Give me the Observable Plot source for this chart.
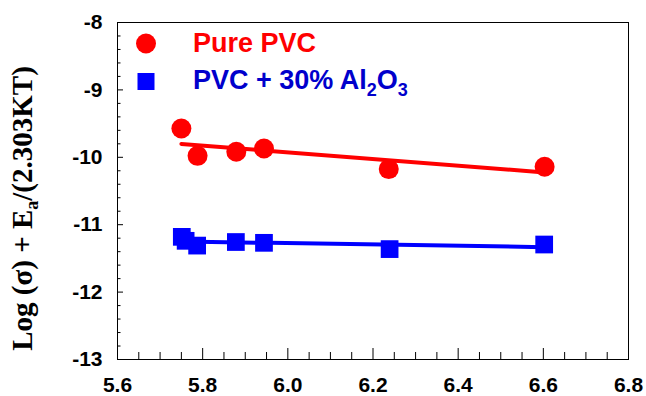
<!DOCTYPE html>
<html><head><meta charset="utf-8">
<script src="https://cdn.jsdelivr.net/npm/d3@7"></script>
<script src="https://cdn.jsdelivr.net/npm/@observablehq/plot@0.6"></script>
<style>body{margin:0;background:#fff} #chart{width:646px;height:396px}</style>
</head><body><div id="chart"></div>
<script>
// Data
const pureX = [5.750, 5.788, 5.879, 5.944, 6.237, 6.603];
const pureY = [-9.573, -9.978, -9.918, -9.870, -10.175, -10.141];
const alX = [5.751, 5.760, 5.787, 5.878, 5.944, 6.239, 6.602];
const alY = [-11.180, -11.239, -11.310, -11.257, -11.269, -11.362, -11.294];
const xTicks = [5.6, 5.8, 6.0, 6.2, 6.4, 6.6, 6.8];
const yTicks = [-13, -12, -11, -10, -9, -8];
const xMinor = [5.65,5.7,5.75,5.85,5.9,5.95,6.05,6.1,6.15,6.25,6.3,6.35,6.45,6.5,6.55,6.65,6.7,6.75];
const yMinor = [-12.8,-12.6,-12.4,-12.2,-11.8,-11.6,-11.4,-11.2,-10.8,-10.6,-10.4,-10.2,-9.8,-9.6,-9.4,-9.2,-8.8,-8.6,-8.4,-8.2];
const seriesNames = ["Pure PVC", "PVC + 30% Al2O3"];
const colors = ["#ff0000", "#0000ff"];

const pure = pureX.map((x, i) => ({x, y: pureY[i]}));
const al = alX.map((x, i) => ({x, y: alY[i]}));

const W = 646, H = 396, mL = 117, mR = 18, mT = 22, mB = 37;
const iw = W - mL - mR, ih = H - mT - mB;
const font = "'Liberation Sans', Arial, sans-serif";

const plot = Plot.plot({
  width: W, height: H,
  marginLeft: mL, marginRight: mR, marginTop: mT, marginBottom: mB,
  x: {domain: [5.6, 6.8]},
  y: {domain: [-13, -8]},
  style: {fontFamily: font, background: "#fff"},
  marks: [
    Plot.tickX(xTicks, {x: d => d, insetTop: ih - 11, stroke: "#000"}),
    Plot.tickX(xMinor, {x: d => d, insetTop: ih - 7, stroke: "#000"}),
    Plot.tickY(yTicks, {y: d => d, insetRight: iw - 6, stroke: "#000"}),
    Plot.tickY(yMinor, {y: d => d, insetRight: iw - 3.5, stroke: "#000"}),
    Plot.axisX({ticks: xTicks, tickSize: 0, tickPadding: 18, tickFormat: d3.format(".1f"),
      fontSize: 21, fontWeight: "bold", label: null, fill: "#000"}),
    Plot.axisY({ticks: yTicks, tickSize: 0, tickPadding: 15, tickFormat: d => String(d),
      fontSize: 21, fontWeight: "bold", label: null, fill: "#000"}),
    Plot.linearRegressionY(pure, {x: "x", y: "y", ci: 0, stroke: colors[0], strokeWidth: 4}),
    Plot.linearRegressionY(al, {x: "x", y: "y", ci: 0, stroke: colors[1], strokeWidth: 4}),
    Plot.dot(pure, {x: "x", y: "y", r: 10, fill: colors[0], symbol: "circle"}),
    Plot.dot(al, {x: "x", y: "y", r: 10, fill: colors[1], symbol: "square"}),
    Plot.frame({stroke: "#000", strokeWidth: 1})
  ]
});
document.getElementById("chart").appendChild(plot);

const svg = d3.select(plot);
// Y axis title
const yl = svg.append("text")
  .attr("transform", "translate(31.5,208.5) rotate(-90)")
  .attr("text-anchor", "middle")
  .style("font-family", "'Liberation Serif', 'Times New Roman', serif")
  .style("font-weight", "bold").style("font-size", "29px").attr("fill", "#000");
yl.append("tspan").text("Log (σ) + E");
yl.append("tspan").attr("dy", 6).style("font-size", "18px").text("a");
yl.append("tspan").attr("dy", -6).text("/(2.303KT)");

// Legend
const lg = svg.append("g").style("font-family", font).style("font-weight", "bold").attr("text-anchor", "start");
lg.append("circle").attr("cx", 146).attr("cy", 43.5).attr("r", 10).attr("fill", colors[0]);
lg.append("rect").attr("x", 137.5).attr("y", 73).attr("width", 17).attr("height", 17).attr("fill", colors[1]);
lg.append("text").attr("x", 193).attr("y", 51.5).attr("fill", "#ff0000").style("font-size", "27px").text(seriesNames[0]);
const t2 = lg.append("text").attr("x", 193).attr("y", 88.5).attr("fill", "#0000cc").style("font-size", "27px");
t2.append("tspan").text("PVC + 30% Al");
t2.append("tspan").attr("dy", 7).style("font-size", "18px").text("2");
t2.append("tspan").attr("dy", -7).text("O");
t2.append("tspan").attr("dy", 7).style("font-size", "18px").text("3");
</script>
</body></html>
